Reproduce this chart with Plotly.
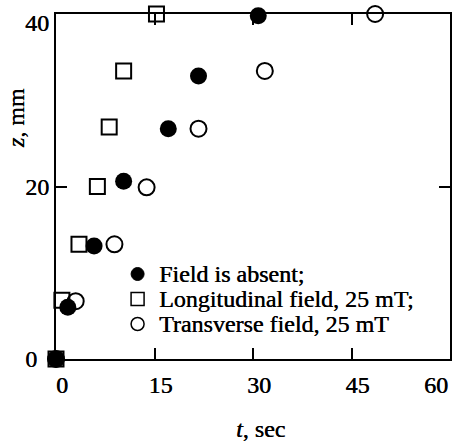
import plotly.graph_objects as go

# Depth z (mm) reached by the front versus time t (s) for three field conditions
t_absent = [0, 1.8, 5.8, 10.3, 17.1, 21.7, 30.8]
z_absent = [0, 6.0, 13.1, 20.6, 26.7, 32.8, 39.8]

t_long = [0, 0.9, 3.5, 6.3, 8.1, 10.3, 15.3]
z_long = [0, 6.8, 13.3, 20.0, 26.9, 33.4, 40.0]

t_trans = [0, 3.0, 8.9, 13.8, 21.7, 31.8, 48.6]
z_trans = [0, 6.7, 13.3, 19.9, 26.7, 33.4, 40.0]

series_names = ["Field is absent;", "Longitudinal field, 25 mT;", "Transverse field, 25 mT"]

x_ticks = [0, 15, 30, 45, 60]
y_ticks = [0, 20, 40]
x_range = [0, 60]
y_range = [0, 40]

# Page geometry
W, H = 454, 443
M = dict(l=56, r=2, t=14, b=84)
PW = W - M["l"] - M["r"]
PH = H - M["t"] - M["b"]

FONT = "Liberation Serif"
FS = 24
TEXT = dict(family=FONT, size=FS, color="black", shadow="0.4px 0 0 #000")


def paper_x(px):
    return (px - M["l"]) / PW


def paper_y(py):
    return (H - M["b"] - py) / PH


fig = go.Figure()

fig.add_trace(go.Scatter(
    x=t_long, y=z_long, mode="markers", name=series_names[1], cliponaxis=False,
    marker=dict(symbol="square-open", size=15, color="black", line=dict(width=2, color="black")),
))
fig.add_trace(go.Scatter(
    x=t_trans, y=z_trans, mode="markers", name=series_names[2], cliponaxis=False,
    marker=dict(symbol="circle-open", size=16, color="black", line=dict(width=2, color="black")),
))
fig.add_trace(go.Scatter(
    x=t_absent, y=z_absent, mode="markers", name=series_names[0], cliponaxis=False,
    marker=dict(symbol="circle", size=17, color="black"),
))

axis_common = dict(
    showline=True, linewidth=2, linecolor="black", mirror="ticks",
    ticks="inside", ticklen=11, tickwidth=1.5, tickcolor="black",
    showgrid=False, zeroline=False,
    tickfont=TEXT,
)

# the corner labels are set apart from the markers sitting on the origin / frame
fig.update_xaxes(
    range=x_range, tickvals=x_ticks,
    ticktext=[str(v) for v in x_ticks[:-1]] + [""],
    ticklabelshift=6, ticklabelstandoff=3, **axis_common,
)
fig.update_yaxes(
    range=y_range, tickvals=y_ticks,
    ticktext=[str(y_ticks[0]) + "\u2002"] + [str(v) for v in y_ticks[1:-1]] + [""],
    **axis_common,
)

annotations = [
    # end labels kept inside the page
    dict(x=x_ticks[-1], y=y_range[0], xref="x", yref="y", text=str(x_ticks[-1]),
         xanchor="right", yanchor="top", yshift=-11, showarrow=False, font=TEXT),
    dict(x=x_range[0], y=y_ticks[-1], xref="x", yref="y", text=str(y_ticks[-1]),
         xanchor="right", yanchor="top", xshift=-5, yshift=6, showarrow=False, font=TEXT),
    # axis titles
    dict(x=0.5, y=0, xref="paper", yref="paper", text="<i>t</i>, sec",
         xanchor="center", yanchor="middle", xshift=7, yshift=-70, showarrow=False,
         font=TEXT),
    dict(x=paper_x(16), y=paper_y(118), xref="paper", yref="paper", text="<i>z</i>, mm",
         textangle=-90, xanchor="center", yanchor="middle", showarrow=False, font=TEXT),
]

# Key: symbol column and text column inside the plot area
key_sym_x = 138
key_text_x = 158
key_rows = [274, 299, 324]
half = 6.5
shapes = []
key_styles = [
    dict(type="circle", fillcolor="black", line=dict(color="black", width=1)),
    dict(type="rect", fillcolor="rgba(0,0,0,0)", line=dict(color="black", width=1.5)),
    dict(type="circle", fillcolor="rgba(0,0,0,0)", line=dict(color="black", width=1.5)),
]
for name, row, style in zip(series_names, key_rows, key_styles):
    shapes.append(dict(
        xref="paper", yref="paper", xsizemode="pixel", ysizemode="pixel",
        xanchor=paper_x(key_sym_x), yanchor=paper_y(row),
        x0=-half, x1=half, y0=-half, y1=half, **style,
    ))
    annotations.append(dict(
        x=paper_x(key_text_x), y=paper_y(row), xref="paper", yref="paper",
        text=name, xanchor="left", yanchor="middle", showarrow=False, font=TEXT,
    ))

fig.update_layout(
    width=W, height=H, margin=M,
    paper_bgcolor="white", plot_bgcolor="white",
    showlegend=False,
    annotations=annotations, shapes=shapes,
)

fig.write_html("out.html")
